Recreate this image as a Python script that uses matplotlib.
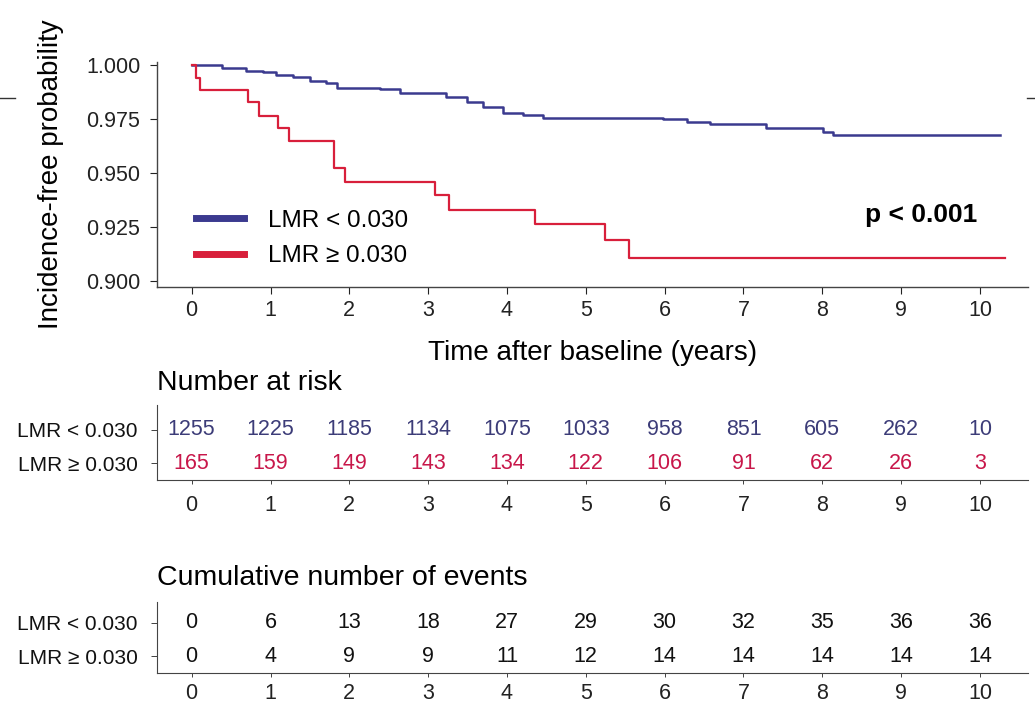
import matplotlib
matplotlib.use("Agg")
import matplotlib.pyplot as plt
from matplotlib.lines import Line2D

plt.rcParams['font.family'] = ['Liberation Sans', 'DejaVu Sans']

# ---------------- data ----------------
groups = ["LMR < 0.030", "LMR \u2265 0.030"]

# Kaplan-Meier step curves (time in years, survival after step)
blue_t = [0.0, 0.38, 0.69, 0.90, 1.07, 1.29, 1.50, 1.71, 1.84, 2.39, 2.64, 3.23, 3.49,
          3.70, 3.95, 4.20, 4.46, 5.98, 6.28, 6.57, 7.29, 8.01, 8.14, 10.25]
blue_s = [1.000, 0.9985, 0.9974, 0.9966, 0.9954, 0.9943, 0.9927, 0.9915, 0.9895, 0.9890,
          0.9872, 0.9853, 0.9830, 0.9807, 0.9776, 0.9769, 0.9756, 0.9750, 0.9738, 0.9727,
          0.9707, 0.9691, 0.9677, 0.9677]

red_t = [0.0, 0.05, 0.10, 0.71, 0.86, 1.09, 1.235, 1.81, 1.95, 3.09, 3.26, 4.35, 5.24, 5.55, 10.32]
red_s = [1.000, 0.9938, 0.9884, 0.9830, 0.9764, 0.9707, 0.9650, 0.9525, 0.9460, 0.9398,
         0.9329, 0.9262, 0.9190, 0.9105, 0.9105]

times = list(range(0, 11))
at_risk_low = [1255, 1225, 1185, 1134, 1075, 1033, 958, 851, 605, 262, 10]
at_risk_high = [165, 159, 149, 143, 134, 122, 106, 91, 62, 26, 3]
events_low = [0, 6, 13, 18, 27, 29, 30, 32, 35, 36, 36]
events_high = [0, 4, 9, 9, 11, 12, 14, 14, 14, 14, 14]

y_ticks = [0.900, 0.925, 0.950, 0.975, 1.000]
p_text = "p < 0.001"

# ---------------- style ----------------
BLUE = "#3b3a8f"
RED = "#d81f3b"
BLUE_TXT = "#3c3c78"
RED_TXT = "#c8174a"
SPINE = "#444444"
TXT = "#222222"

W, H = 1035, 707
fig = plt.figure(figsize=(W / 100, H / 100), dpi=100)


def fax(left, top, right, bottom):
    return [left / W, 1 - bottom / H, (right - left) / W, (bottom - top) / H]


XLIM = (-0.44, 10.61)

# ---------------- main KM plot ----------------
ax = fig.add_axes(fax(157, 62, 1028, 287))
ax.step(blue_t, blue_s, where="post", color=BLUE, lw=1.8, label=groups[0])
ax.step(red_t, red_s, where="post", color=RED, lw=1.6, label=groups[1])
ax.set_xlim(*XLIM)
ax.set_ylim(0.8972, 1.0014)
ax.set_xticks(times)
ax.set_yticks(y_ticks)
ax.set_yticklabels([f"{v:.3f}" for v in y_ticks])
for s in ("top", "right"):
    ax.spines[s].set_visible(False)
for s in ("left", "bottom"):
    ax.spines[s].set_color(SPINE)
    ax.spines[s].set_linewidth(1.0)
ax.tick_params(axis="both", labelsize=15.5, colors=TXT, length=5, width=0.8)
ax.tick_params(axis="x", pad=4)
ax.tick_params(axis="y", pad=7)
ax.set_ylabel("Incidence-free probability", fontsize=20, labelpad=16)
ax.set_xlabel("Time after baseline (years)", fontsize=20, labelpad=14)

leg = ax.legend(loc="lower left", bbox_to_anchor=(0.034, 0.045), borderaxespad=0,
                frameon=False, fontsize=17.5, handlelength=1.95, handletextpad=1.0,
                labelspacing=0.55)
for h in leg.legend_handles:
    h.set_linewidth(5)

ax.text(0.9415, 0.32, p_text, transform=ax.transAxes, fontsize=19,
        fontweight="bold", ha="right", va="center")


def table(top, bottom, title, title_y, low, high, col_low, col_high, xpad):
    tax = fig.add_axes(fax(157, top, 1028, bottom))
    tax.set_xlim(*XLIM)
    span = bottom - top
    tax.set_ylim(-0.5, -0.5 + span / 33.5)
    for i, (a, b) in enumerate(zip(low, high)):
        tax.text(times[i], 1, str(a), ha="center", va="center", fontsize=15.5, color=col_low)
        tax.text(times[i], 0, str(b), ha="center", va="center", fontsize=15.5, color=col_high)
    tax.set_xticks(times)
    tax.set_yticks([1, 0])
    tax.set_yticklabels(groups)
    for s in ("top", "right"):
        tax.spines[s].set_visible(False)
    for s in ("left", "bottom"):
        tax.spines[s].set_color(SPINE)
    tax.tick_params(axis="x", labelsize=15.5, length=3, width=0.6, pad=xpad, colors=TXT)
    tax.tick_params(axis="y", labelsize=15, length=4, width=0.6, pad=10, colors=TXT)
    for lab in tax.get_yticklabels():
        lab.set_color("#111111")
    fig.text(157 / W, 1 - title_y / H, title, fontsize=20.5, ha="left", va="center")
    return tax


table(405, 480, "Number at risk", 383, at_risk_low, at_risk_high, BLUE_TXT, RED_TXT, 8)
table(602, 673, "Cumulative number of events", 578, events_low, events_high,
      "#111111", "#111111", 4.5)

# small stray lines visible in the source figure
fig.add_artist(Line2D([0, 15 / W], [1 - 97.5 / H] * 2, color="#333333", lw=1.0))
fig.add_artist(Line2D([1027 / W, 1], [1 - 98 / H] * 2, color="#333333", lw=1.0))

fig.savefig("out.png", dpi=100, facecolor="white")
